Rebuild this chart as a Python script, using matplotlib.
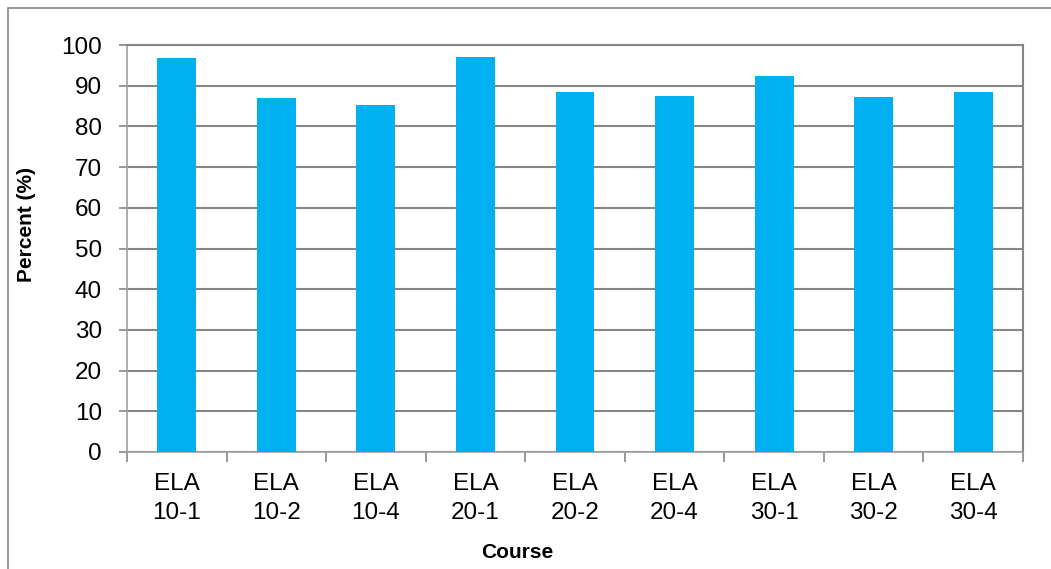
import numpy as np
import matplotlib
matplotlib.use("Agg")
import matplotlib.pyplot as plt
from matplotlib.patches import Rectangle

plt.rcParams['font.family'] = ['Liberation Sans', 'DejaVu Sans']

courses = ["ELA\n10-1", "ELA\n10-2", "ELA\n10-4", "ELA\n20-1", "ELA\n20-2",
           "ELA\n20-4", "ELA\n30-1", "ELA\n30-2", "ELA\n30-4"]
percent = [96.8, 87.1, 85.3, 97.0, 88.5, 87.5, 92.5, 87.3, 88.4]

fig = plt.figure(figsize=(10.51, 5.69), dpi=100)
ax = fig.add_axes([127 / 1051, 117 / 569, 896 / 1051, 407 / 569])

x = np.arange(len(courses))
ax.bar(x, percent, width=0.39, color="#00B0F0", zorder=3)

ax.set_xlim(-0.5, len(courses) - 0.5)
ax.set_ylim(0, 100)
ax.set_yticks(np.arange(0, 101, 10))
ax.set_xticks(x)
ax.set_xticklabels(courses, fontsize=17.5, linespacing=1.4)
ax.tick_params(axis='y', labelsize=17.5, length=6, color="#868686", width=1.2, pad=12)
ax.tick_params(axis='x', length=0, pad=15)
# ticks between categories
ax.set_xticks(np.arange(-0.5, len(courses), 1), minor=True)
ax.tick_params(axis='x', which='minor', length=7, color="#868686", width=1.2)

ax.grid(axis='y', color="#868686", linewidth=1.5, zorder=0)
for side in ['top', 'right']:
    ax.spines[side].set_color("#868686")
    ax.spines[side].set_linewidth(1.5)
for side in ['left', 'bottom']:
    ax.spines[side].set_color("#A0A0A0")
    ax.spines[side].set_linewidth(1.2)

fig.text(517.5 / 1051, 1 - 553 / 569, "Course", fontsize=15, fontweight='bold',
         ha='center', va='center')
fig.text(27 / 1051, 1 - 224 / 569, "Percent (%)", fontsize=15, fontweight='bold',
         ha='center', va='center', rotation=90)

fig.patches.append(Rectangle((8 / 1051, -0.05), 1.1, (569 - 8) / 569 + 0.05,
                             transform=fig.transFigure, fill=False,
                             edgecolor="#868686", linewidth=1.2))

fig.savefig("out.png", dpi=100)
